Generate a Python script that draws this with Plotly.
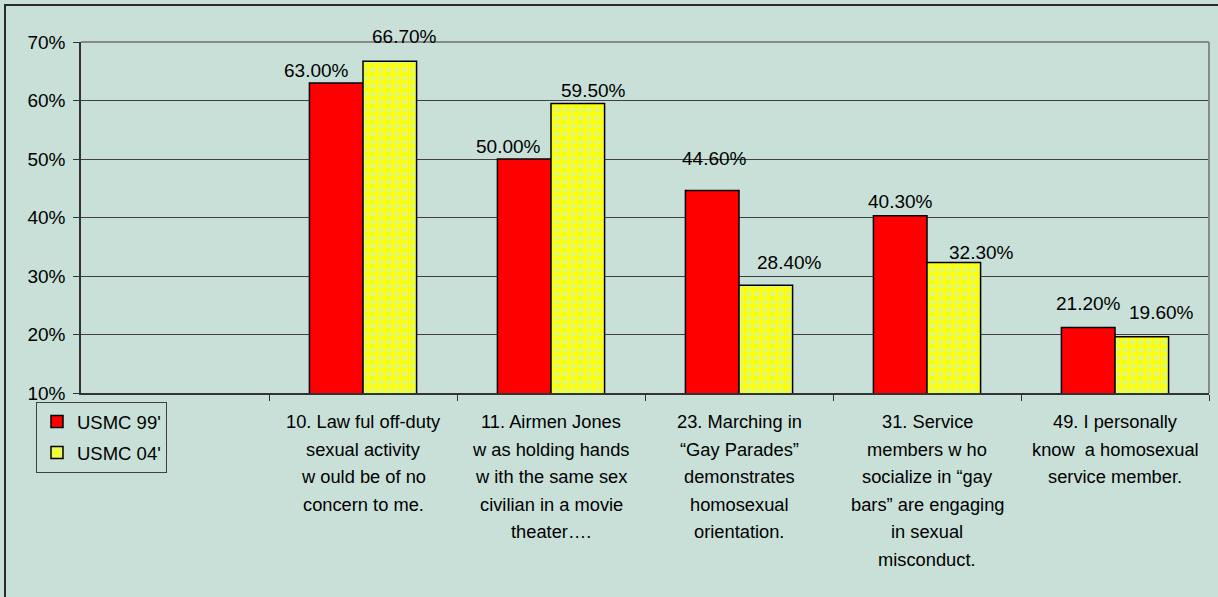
import plotly.graph_objects as go

# ---- data ----
categories = [
    "10. Law ful off-duty<br>sexual activity<br>w ould be of no<br>concern to me.",
    "11. Airmen Jones<br>w as holding hands<br>w ith the same sex<br>civilian in a movie<br>theater….",
    "23. Marching in<br>“Gay Parades”<br>demonstrates<br>homosexual<br>orientation.",
    "31. Service<br>members w ho<br>socialize in “gay<br>bars” are engaging<br>in sexual<br>misconduct.",
    "49. I personally<br>know  a homosexual<br>service member.",
]
series_names = ["USMC 99'", "USMC 04'"]
usmc_99 = [63.0, 50.0, 44.6, 40.3, 21.2]
usmc_04 = [66.7, 59.5, 28.4, 32.3, 19.6]
y_ticks = [10, 20, 30, 40, 50, 60, 70]
y_tick_labels = ["10%", "20%", "30%", "40%", "50%", "60%", "70%"]

# ---- layout constants (pixels) ----
W, H = 1218, 597
ML, MR, MT, MB = 81, 9, 42, 204
BG = "#c8e0d8"
FONT = "Arial, Liberation Sans, sans-serif"
BARGAP = 0.43
CAT_FONT = 18.3
CAT_LINE = 27.5      # Excel-like line spacing of category labels
CAT_FIRST = 28.5     # distance of first label line below the axis

# label nudges (px) as placed in the original chart
lab99_dx = [-20, -16, 2, 0, 0]
lab99_dy = [12, 13, 32, 14, 24]
lab04_dx = [15, 16, 24, 28, 20]
lab04_dy = [25, 13, 23, 10, 24]

blank = " "
cat_order = [blank] + categories

fig = go.Figure()
fig.add_trace(go.Bar(
    x=categories, y=usmc_99, name=series_names[0], legendgroup="a",
    marker=dict(color="#ff0000", line=dict(color="#000000", width=1.5)),
))
fig.add_trace(go.Bar(
    x=categories, y=usmc_04, name=series_names[1], legendgroup="b",
    marker=dict(color="#ffff00", line=dict(color="#000000", width=1.5),
                pattern=dict(shape=".", fgcolor="#c2f2dc", bgcolor="#ffff00",
                             size=8, solidity=0.45)),
))

plot_w = W - ML - MR
cat_px = plot_w / len(cat_order)
bar_off = cat_px * (1 - BARGAP) / 4

annotations = []
for i, c in enumerate(categories):
    annotations.append(dict(
        x=c, y=usmc_99[i], xref="x", yref="y", text=f"{usmc_99[i]:.2f}%",
        showarrow=False, xanchor="center", yanchor="middle",
        xshift=-bar_off + lab99_dx[i], yshift=lab99_dy[i],
        font=dict(family=FONT, size=19, color="#000000")))
    annotations.append(dict(
        x=c, y=usmc_04[i], xref="x", yref="y", text=f"{usmc_04[i]:.2f}%",
        showarrow=False, xanchor="center", yanchor="middle",
        xshift=bar_off + lab04_dx[i], yshift=lab04_dy[i],
        font=dict(family=FONT, size=19, color="#000000")))
    # category label, one line at a time (Excel uses wider line spacing)
    for k, line in enumerate(c.split("<br>")):
        annotations.append(dict(
            x=c, y=0, xref="x", yref="paper", text=line,
            showarrow=False, xanchor="center", yanchor="middle",
            yshift=-(CAT_FIRST + k * CAT_LINE),
            font=dict(family=FONT, size=CAT_FONT, color="#000000")))

plot_h = H - MT - MB
def px_x(p):
    return (p - ML) / plot_w
def px_y(p):
    return (H - MB - p) / plot_h

shapes = [
    # outer chart frame (extends beyond the visible area on right/bottom)
    dict(type="rect", xref="paper", yref="paper",
         x0=px_x(5), x1=px_x(W + 20), y0=px_y(H + 20), y1=px_y(5),
         line=dict(color="#2a2a2a", width=2), layer="below"),
    # plot-area top and right border (grey)
    dict(type="line", xref="paper", yref="paper", x0=0, x1=1, y0=1, y1=1,
         line=dict(color="#8a8a8a", width=2), layer="above"),
    dict(type="line", xref="paper", yref="paper", x0=1, x1=1, y0=0, y1=1,
         line=dict(color="#8a8a8a", width=2), layer="above"),
]

fig.update_layout(
    width=W, height=H,
    margin=dict(l=ML, r=MR, t=MT, b=MB, pad=0),
    paper_bgcolor=BG, plot_bgcolor=BG,
    font=dict(family=FONT, size=18, color="#000000"),
    barmode="group", bargap=BARGAP, bargroupgap=0,
    showlegend=True,
    legend=dict(
        x=px_x(36), y=px_y(402), xanchor="left", yanchor="top",
        bgcolor="rgba(0,0,0,0)", bordercolor="#404040", borderwidth=1,
        font=dict(family=FONT, size=18.5, color="#000000"),
        traceorder="grouped", tracegroupgap=4, itemwidth=30,
    ),
    annotations=annotations,
    shapes=shapes,
)

fig.update_xaxes(
    type="category", categoryorder="array", categoryarray=cat_order,
    range=[-0.5, len(cat_order) - 0.5],
    tickvals=categories, showticklabels=False,
    tickson="boundaries", ticks="outside", ticklen=6, tickcolor="#333333",
    showline=True, linecolor="#333333", linewidth=1.5,
    showgrid=False,
)
fig.update_yaxes(
    range=[10, 70], tickvals=y_ticks, ticktext=y_tick_labels,
    ticks="outside", ticklen=6, tickcolor="#333333",
    showline=True, linecolor="#333333", linewidth=1.5,
    showgrid=True, gridcolor="#404040", gridwidth=1,
    zeroline=False,
    tickfont=dict(family=FONT, size=19, color="#000000"),
    ticklabelstandoff=4,
)

fig.write_html("out.html", config={"displayModeBar": False},
               post_script="document.body.style.margin='0';document.body.style.background='" + BG + "';")
